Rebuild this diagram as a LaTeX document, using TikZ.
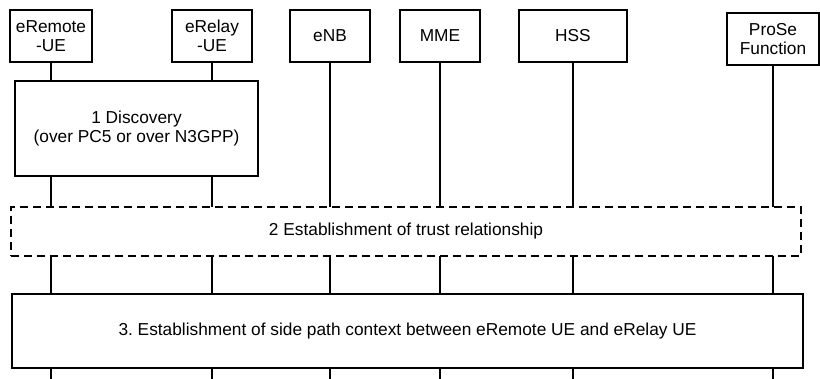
\documentclass[tikz,border=0pt]{standalone}
\usepackage{fontspec}
\setmainfont{Liberation Sans}
\usepackage{tikz}
\usetikzlibrary{positioning}
\frenchspacing

\begin{document}
\begin{tikzpicture}[x=1pt,y=-1pt,font=\fontsize{17.3}{19.5}\selectfont,
	entity/.style={draw=black,line width=2pt,rectangle,align=center,inner sep=0pt,minimum height=52pt},
	stepbox/.style={draw=black,line width=1.2pt,rectangle,fill=white,align=center,inner sep=0pt},
	every edge/.append style={line width=1.2pt}]
	\useasboundingbox (0,0) rectangle (820,379);
	\coordinate (bottom) at (0,379);

	% entities
	\node[entity,minimum width=82pt]	(eremote)	at (51,36)		{eRemote\\-UE};
	\node[entity,minimum width=80pt]	(erelay)	at (212,36)		{eRelay\\-UE};
	\node[entity,minimum width=80pt]	(enb)		at (330,36)		{eNB};
	\node[entity,minimum width=80pt]	(mme)		at (440,36)		{MME};
	\node[entity,minimum width=108pt]	(hss)		at (573,36)		{HSS};
	\node[entity,minimum width=92pt]	(prose)		at (773,39)		{ProSe\\Function};

	% lifelines
	\path
		(eremote.south)	edge	(eremote.south |- bottom)
		(erelay.south)	edge	(erelay.south |- bottom)
		(enb.south)		edge	(enb.south |- bottom)
		(mme.south)		edge	(mme.south |- bottom)
		(hss.south)		edge	(hss.south |- bottom)
		(prose.south)	edge	(prose.south |- bottom)
	;

	% steps
	\node[stepbox,minimum width=243pt,minimum height=95pt]	(discovery)	at (136.5,128.5)	{1 Discovery\\(over PC5 or over N3GPP)};
	\node[stepbox,dashed,dash pattern=on 8pt off 5pt,minimum width=790pt,minimum height=49pt]	(trust)	at (406,231.5)	{2 Establishment of trust relationship};
	\node[stepbox,minimum width=791pt,minimum height=74pt]	(context)	at (407.5,331)	{3. Establishment of side path context between eRemote UE and eRelay UE};
\end{tikzpicture}
\end{document}
